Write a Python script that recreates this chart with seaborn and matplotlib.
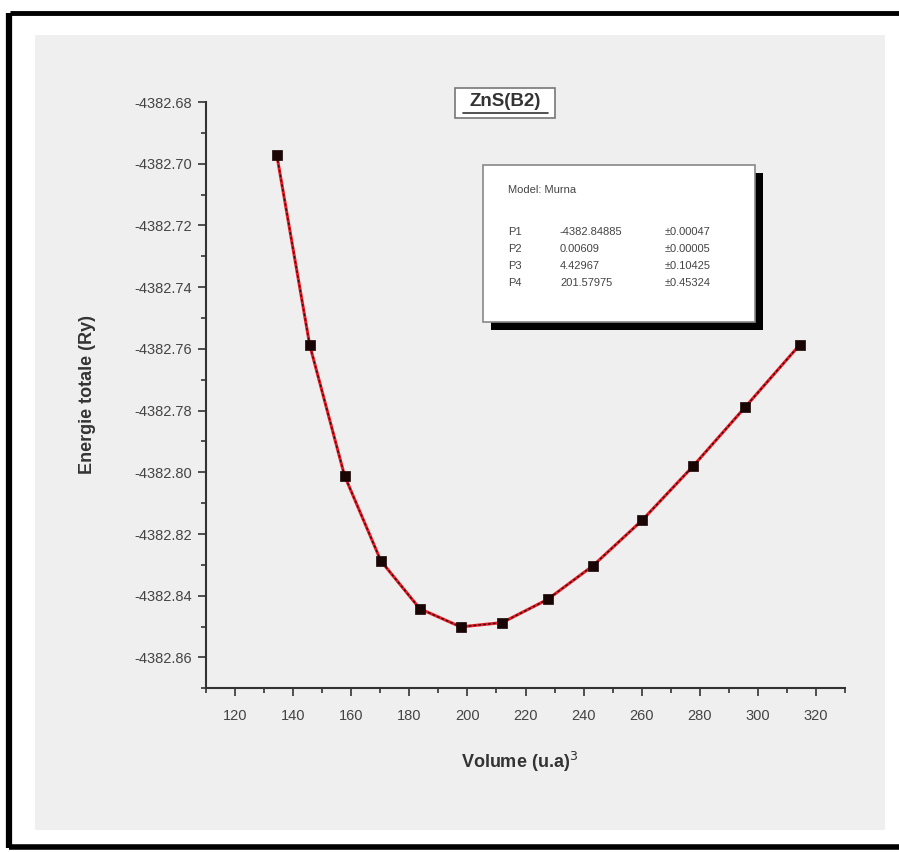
import matplotlib
matplotlib.use("Agg")
import matplotlib.pyplot as plt
import matplotlib.ticker as mticker
from matplotlib.patches import Rectangle
from matplotlib.lines import Line2D
import seaborn as sns
import pandas as pd

# ---- data ----
volume = [134.4, 145.7, 157.7, 170.2, 183.6, 197.7, 212.0, 227.6, 243.2, 260.2, 277.8, 295.6, 314.4]
energy = [-4382.6973, -4382.7587, -4382.8011, -4382.8287, -4382.8442, -4382.8501,
          -4382.8487, -4382.8412, -4382.8303, -4382.8155, -4382.7979, -4382.7789, -4382.7587]
x_ticks = [120, 140, 160, 180, 200, 220, 240, 260, 280, 300, 320]
y_ticks = [-4382.68, -4382.70, -4382.72, -4382.74, -4382.76, -4382.78, -4382.80, -4382.82, -4382.84, -4382.86]
param_names = ["P1", "P2", "P3", "P4"]
param_values = ["-4382.84885", "0.00609", "4.42967", "201.57975"]
param_errors = ["\u00b10.00047", "\u00b10.00005", "\u00b10.10425", "\u00b10.45324"]
model_label = "Model: Murna"
title = "ZnS(B2)"

df = pd.DataFrame({"V": volume, "E": energy})

GRAY = "#efefef"
sns.set_theme(style="ticks", rc={"axes.facecolor": GRAY, "figure.facecolor": "white"})
plt.rcParams["font.family"] = ["Liberation Sans", "DejaVu Sans"]
plt.rcParams["axes.unicode_minus"] = False

W, H = 899, 852
fig = plt.figure(figsize=(W / 100, H / 100), dpi=100)


def fx(px):
    return px / W


def fy(py):
    return 1 - py / H


# panel background and frame
fig.add_artist(Rectangle((fx(35), fy(830)), fx(885) - fx(35), fy(35) - fy(830),
                         transform=fig.transFigure, facecolor=GRAY, edgecolor="none", zorder=0))
for (x0, y0, x1, y1, lw) in [(10, 13, 899, 13, 3.5), (9, 13, 9, 848, 4.5), (9, 847, 899, 847, 4)]:
    fig.add_artist(Line2D([fx(x0), fx(x1)], [fy(y0), fy(y1)], transform=fig.transFigure,
                          color="black", lw=lw, solid_capstyle="butt", zorder=1))

ax = fig.add_axes([fx(206), fy(688.3), fx(845) - fx(206), fy(102) - fy(688.3)])
ax.set_facecolor(GRAY)

sns.lineplot(data=df, x="V", y="E", ax=ax, color="#e8202a", lw=2.2, sort=False, zorder=3)
sns.lineplot(data=df, x="V", y="E", ax=ax, color="#3a0a0a", lw=1.0, ls=(0, (2, 1.5)), sort=False, zorder=4)
sns.scatterplot(data=df, x="V", y="E", ax=ax, marker="s", s=55, color="#1a0505",
                edgecolor="#1a0505", linewidth=0.5, zorder=5)

ax.set_xlim(110, 330)
ax.set_ylim(-4382.87, -4382.68)
ax.set_xticks(x_ticks)
ax.set_yticks(y_ticks)
ax.xaxis.set_minor_locator(mticker.MultipleLocator(10))
ax.yaxis.set_minor_locator(mticker.MultipleLocator(0.01))
ax.yaxis.set_major_formatter(mticker.FormatStrFormatter("%.2f"))
ax.tick_params(axis="both", which="major", direction="out", length=6, width=1.2,
               color="#333333", labelsize=10.5, labelcolor="#444444")
ax.tick_params(axis="x", which="major", pad=9)
ax.tick_params(axis="y", which="major", pad=4)
ax.tick_params(axis="both", which="minor", direction="out", length=3.5, width=1.2, color="#333333")
for s in ["top", "right"]:
    ax.spines[s].set_visible(False)
for s in ["left", "bottom"]:
    ax.spines[s].set_color("#333333")
    ax.spines[s].set_linewidth(1.5)

ax.set_xlabel("")
ax.set_ylabel("")
fig.text(fx(520), fy(762), "Volume (u.a)$^3$", ha="center", va="center",
         fontsize=13, fontweight="bold", color="#333333")
fig.text(fx(88), fy(395), "Energie totale (Ry)", ha="center", va="center", rotation=90,
         fontsize=13, fontweight="bold", color="#333333")

# title box
fig.add_artist(Rectangle((fx(455), fy(118)), fx(555) - fx(455), fy(88) - fy(118),
                         transform=fig.transFigure, facecolor="white", edgecolor="#777777", lw=1.2, zorder=6))
fig.text(fx(505), fy(102), title, ha="center", va="center", fontsize=13.5, fontweight="bold",
         color="#333333", zorder=7)
fig.add_artist(Line2D([fx(463), fx(548)], [fy(113), fy(113)], transform=fig.transFigure,
                      color="#333333", lw=1.2, zorder=7))

# parameter box with shadow
fig.add_artist(Rectangle((fx(491), fy(330)), fx(763) - fx(491), fy(173) - fy(330),
                         transform=fig.transFigure, facecolor="black", edgecolor="none", zorder=6))
fig.add_artist(Rectangle((fx(483), fy(322)), fx(755) - fx(483), fy(165) - fy(322),
                         transform=fig.transFigure, facecolor="white", edgecolor="#888888", lw=1.2, zorder=7))
fig.text(fx(508), fy(190), model_label, ha="left", va="center", fontsize=8, color="#444444", zorder=8)
row_y = [232, 249, 266, 283]
for n, v, e, yy in zip(param_names, param_values, param_errors, row_y):
    fig.text(fx(508), fy(yy), n, ha="left", va="center", fontsize=8, color="#444444", zorder=8)
    fig.text(fx(560), fy(yy), v, ha="left", va="center", fontsize=8, color="#444444", zorder=8)
    fig.text(fx(665), fy(yy), e, ha="left", va="center", fontsize=8, color="#444444", zorder=8)

fig.savefig("out.png", dpi=100)
